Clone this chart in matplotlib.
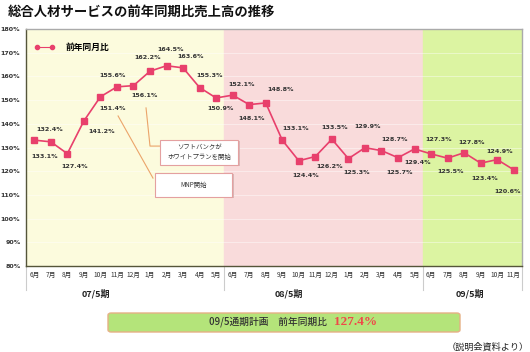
# 総合人材サービスの前年同期比売上高の推移

import matplotlib
matplotlib.use("Agg")
import matplotlib.pyplot as plt
from matplotlib.lines import Line2D
from matplotlib.patches import Rectangle, FancyBboxPatch
import matplotlib.transforms as mtransforms

plt.rcParams['font.family'] = ['Noto Sans CJK JP', 'DejaVu Sans']

# データ
months = ["6月", "7月", "8月", "9月", "10月", "11月", "12月", "1月", "2月", "3月", "4月", "5月",
          "6月", "7月", "8月", "9月", "10月", "11月", "12月", "1月", "2月", "3月", "4月", "5月",
          "6月", "7月", "8月", "9月", "10月", "11月"]
yoy_07 = [133.1, 132.4, 127.4, 141.2, 151.4, 155.6, 156.1, 162.2, 164.5, 163.6, 155.3, 150.9]
yoy_08 = [152.1, 148.1, 148.8, 133.1, 124.4, 126.2, 133.5, 125.3, 129.9, 128.7, 125.7, 129.4]
yoy_09 = [127.3, 125.5, 127.8, 123.4, 124.9, 120.6]
periods = ["07/5期", "08/5期", "09/5期"]
plan_value = "127.4%"

values = yoy_07 + yoy_08 + yoy_09
xs = list(range(len(values)))

# ラベル位置 (pixel offset)
label_offsets = [(10, -16), (-1, 12), (7, -13), (18, -11), (12, -12), (-4, 11),
                 (11, -10), (-2, 14), (4, 16), (8, 11), (10, 12), (4, -11),
                 (9, 11), (2, -14), (15, 13), (13, 12), (7, -15), (14, -10),
                 (3, 12), (8, -14), (3, 21), (13, 11), (2, -15), (3, -14),
                 (8, 14), (3, -13), (7, 10), (4, -15), (2, 8), (-6, -22)]

line_color = "#E8406C"

fig = plt.figure(figsize=(5.30, 3.52), dpi=100)
ax = fig.add_axes([26 / 530, 1 - 266 / 352, 496 / 530, 237 / 352])

# 背景
n07, n08 = len(yoy_07), len(yoy_08)
ax.axvspan(-0.5, n07 - 0.5, color="#FCFBDD", zorder=0)
ax.axvspan(n07 - 0.5, n07 + n08 - 0.5, color="#F9DBDB", zorder=0)
ax.axvspan(n07 + n08 - 0.5, len(values) - 0.5, color="#DCF4A2", zorder=0)
for yv in range(90, 180, 10):
    ax.axhline(yv, color="white", lw=0.6, alpha=0.5, zorder=1)

ax.plot(xs, values, color=line_color, lw=1.2, marker="s", markersize=5,
        markerfacecolor=line_color, markeredgecolor=line_color, zorder=4)

for x, v, (dx, dy) in zip(xs, values, label_offsets):
    ax.annotate(f"{v:.1f}%", (x, v), xytext=(dx, dy), textcoords="offset pixels",
                ha="center", va="center", fontsize=4.6, fontweight="bold",
                color="#333333", family="DejaVu Sans", zorder=5)

ax.set_xlim(-0.5, len(values) - 0.5)
ax.set_ylim(80, 180)
ax.set_yticks(range(80, 181, 10))
ax.set_yticklabels([f"{t}%" for t in range(80, 181, 10)], fontsize=4.6,
                   fontweight="bold", color="#333333", family="DejaVu Sans")
ax.set_xticks(xs)
ax.set_xticklabels(months, fontsize=4.8, color="#333333")
ax.tick_params(axis="both", length=0)
ax.tick_params(axis="x", pad=3.5)
ax.tick_params(axis="y", pad=4)

ax.spines["left"].set_color("#55553A")
ax.spines["bottom"].set_color("#55553A")
ax.spines["top"].set_color("#AAAAAA")
ax.spines["right"].set_color("#AAAAAA")
for s in ax.spines.values():
    s.set_linewidth(1.0)

# 期の区切り線
trans = mtransforms.blended_transform_factory(ax.transData, ax.transAxes)
for bx in [-0.5, n07 - 0.5, n07 + n08 - 0.5, len(values) - 0.5]:
    ax.plot([bx, bx], [0, -0.1], color="#CCCCCC", lw=0.8, transform=trans, clip_on=False)

for px, name in zip([0.141, 0.530, 0.895], periods):
    ax.text(px, -0.118, name, transform=ax.transAxes, ha="center", va="center",
            fontsize=6.5, fontweight="bold", color="#222222")

# 凡例
handle = Line2D([], [], color=line_color, lw=0.8, marker="o", markersize=3)
ax.legend([handle], ["前年同月比"], loc="center left", bbox_to_anchor=(0.0, 0.92),
          numpoints=2, frameon=False, handlelength=2.4, handletextpad=1.2,
          prop={"size": 6.3, "weight": "bold"})

# 吹き出し
callout_color = "#EBA46A"
ax.plot([6.76, 7.0, 7.6], [146.7, 130.6, 130.6], color=callout_color, lw=0.8, zorder=3)
ax.plot([5.07, 7.18], [143.3, 117.1], color=callout_color, lw=0.8, zorder=3)

boxes = [(7.6, 122.6, 4.73, 10.6, "ソフトバンクが\nホワイトプランを開始"),
         (7.3, 109.1, 4.66, 10.1, "MNP開始")]
for bx, by, bw, bh, txt in boxes:
    ax.add_patch(Rectangle((bx + 0.12, by - 0.5), bw, bh, facecolor="#D9B8B8",
                           edgecolor="none", zorder=5))
    ax.add_patch(Rectangle((bx, by), bw, bh, facecolor="white", edgecolor="#E4A0A0",
                           lw=0.8, zorder=6))
    ax.text(bx + bw / 2, by + bh / 2, txt, ha="center", va="center", fontsize=4.6,
            color="#333333", linespacing=1.3, zorder=7)

# タイトル
fig.text(8 / 530, 1 - 12 / 352, "総合人材サービスの前年同期比売上高の推移", ha="left",
         va="center", fontsize=9.6, fontweight="bold", color="#111111")

# 通期計画バナー
banner = FancyBboxPatch((108 / 530, 1 - 332 / 352), 352 / 530, 19 / 352,
                        boxstyle="round,pad=0,rounding_size=0.006",
                        transform=fig.transFigure, facecolor="#B4E47A",
                        edgecolor="#E6B085", lw=1.0)
fig.patches.append(banner)
fig.text(327 / 530, 1 - 322 / 352, "09/5通期計画　前年同期比", ha="right", va="center",
         fontsize=7, fontweight="medium", color="#333333")
fig.text(334 / 530, 1 - 322 / 352, plan_value, ha="left", va="center",
         fontsize=9.5, fontweight="bold", color="#F04848", family="Liberation Serif")

fig.text(0.998, 1 - 347 / 352, "（説明会資料より）", ha="right", va="center",
         fontsize=6.6, color="#222222")

fig.savefig("out.png", dpi=100)
